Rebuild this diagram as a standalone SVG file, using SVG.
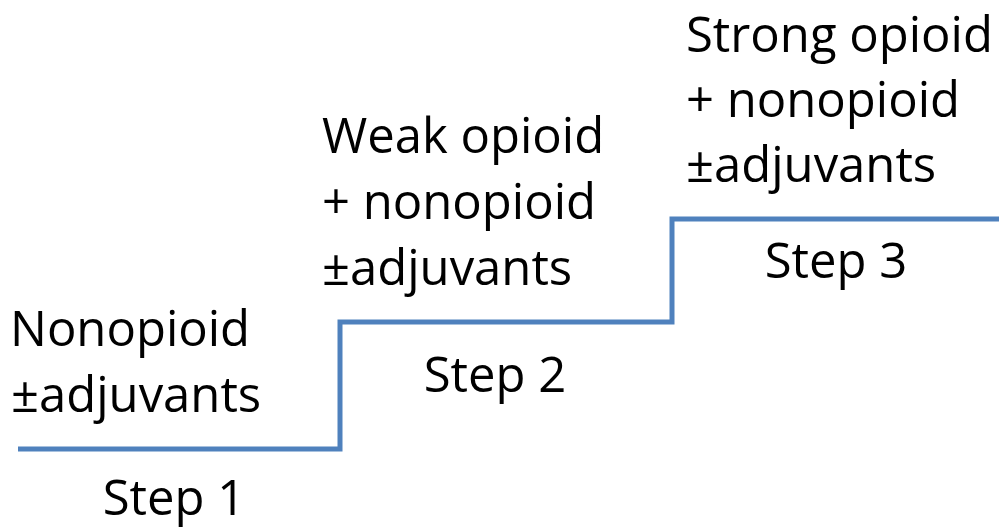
<svg xmlns="http://www.w3.org/2000/svg" width="999" height="529" viewBox="0 0 999 529">
<style>
text{font-family:"Open Sans","Liberation Sans",sans-serif;font-size:49px;fill:#000}
.mid{text-anchor:middle}
.stair{fill:none;stroke:#4f81bd;stroke-width:5;stroke-linejoin:miter}
</style>
<rect width="999" height="529" fill="#fff"/>
<g id="connectors">
<path class="stair" d="M18,449 H340 V322 H672 V219 H999"/>
</g>
<g id="step1">
<text x="10" y="346">Nonopioid</text>
<text x="11" y="412">±adjuvants</text>
<text class="mid" x="174" y="515">Step 1</text>
</g>
<g id="step2">
<text x="322" y="153">Weak opioid</text>
<text x="322" y="219">+ nonopioid</text>
<text x="322" y="285">±adjuvants</text>
<text class="mid" x="495" y="392">Step 2</text>
</g>
<g id="step3">
<text x="686" y="52">Strong opioid</text>
<text x="686" y="117">+ nonopioid</text>
<text x="686" y="182">±adjuvants</text>
<text class="mid" x="836" y="278">Step 3</text>
</g>
</svg>
